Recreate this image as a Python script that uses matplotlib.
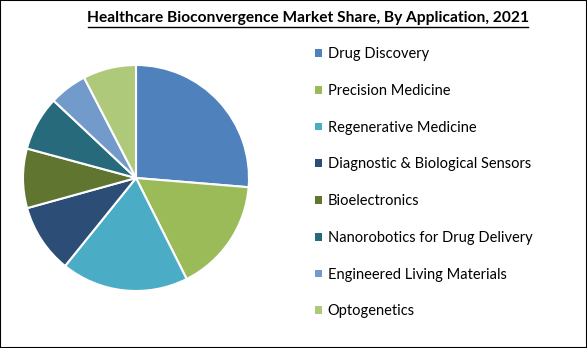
"""Healthcare bioconvergence market share pie chart."""

import matplotlib

matplotlib.use("Agg")

import matplotlib.pyplot as plt
from matplotlib.patches import Patch, Rectangle

CATEGORIES = [
    "Drug Discovery",
    "Precision Medicine",
    "Regenerative Medicine",
    "Diagnostic & Biological Sensors",
    "Bioelectronics",
    "Nanorobotics for Drug Delivery",
    "Engineered Living Materials",
    "Optogenetics",
]
SHARES = [26.3, 16.3, 18.2, 9.9, 8.5, 7.8, 5.4, 7.6]
COLORS = ["#4f81bd", "#9bbb59", "#4bacc6", "#2c4d75", "#5f7530", "#276a7c", "#729aca", "#afc97a"]
TITLE = "Healthcare Bioconvergence Market Share, By Application, 2021"

W, H = 587, 348


def main() -> None:
    plt.rcParams["font.family"] = ["Lato", "DejaVu Sans"]
    fig = plt.figure(figsize=(W / 100, H / 100), dpi=100)

    # pie: centre ~ (136, 178) px, radius ~ 113 px
    cx, cy, r = 136, 178, 113
    ax = fig.add_axes([(cx - r) / W, (H - cy - r) / H, 2 * r / W, 2 * r / H])
    ax.pie(
        SHARES,
        colors=COLORS,
        startangle=90,
        counterclock=False,
        radius=1.0,
        wedgeprops={"edgecolor": "white", "linewidth": 1.5},
    )
    ax.set_xlim(-1, 1)
    ax.set_ylim(-1, 1)
    ax.set_aspect("equal")
    ax.axis("off")

    fig.text(
        308 / W, 1 - 18 / H, TITLE,
        ha="center", va="center", fontsize=11.2, fontweight="bold",
    )
    # underline
    fig.add_artist(plt.Line2D([88 / W, 528 / W], [1 - 27 / H, 1 - 27 / H], color="black", lw=1.0))

    handles = [Patch(facecolor=c, edgecolor="none") for c in COLORS]
    fig.legend(
        handles, CATEGORIES,
        loc="upper left", bbox_to_anchor=(302 / W, 1 - 34 / H),
        frameon=False, fontsize=10.5,
        handlelength=0.45, handleheight=0.45, handletextpad=0.4,
        labelspacing=1.56,
    )

    fig.add_artist(Rectangle((0, 0), 1, 1, transform=fig.transFigure, fill=False,
                             edgecolor="black", lw=1.5))

    fig.savefig("out.png", dpi=100)
    plt.close(fig)


if __name__ == "__main__":
    main()
